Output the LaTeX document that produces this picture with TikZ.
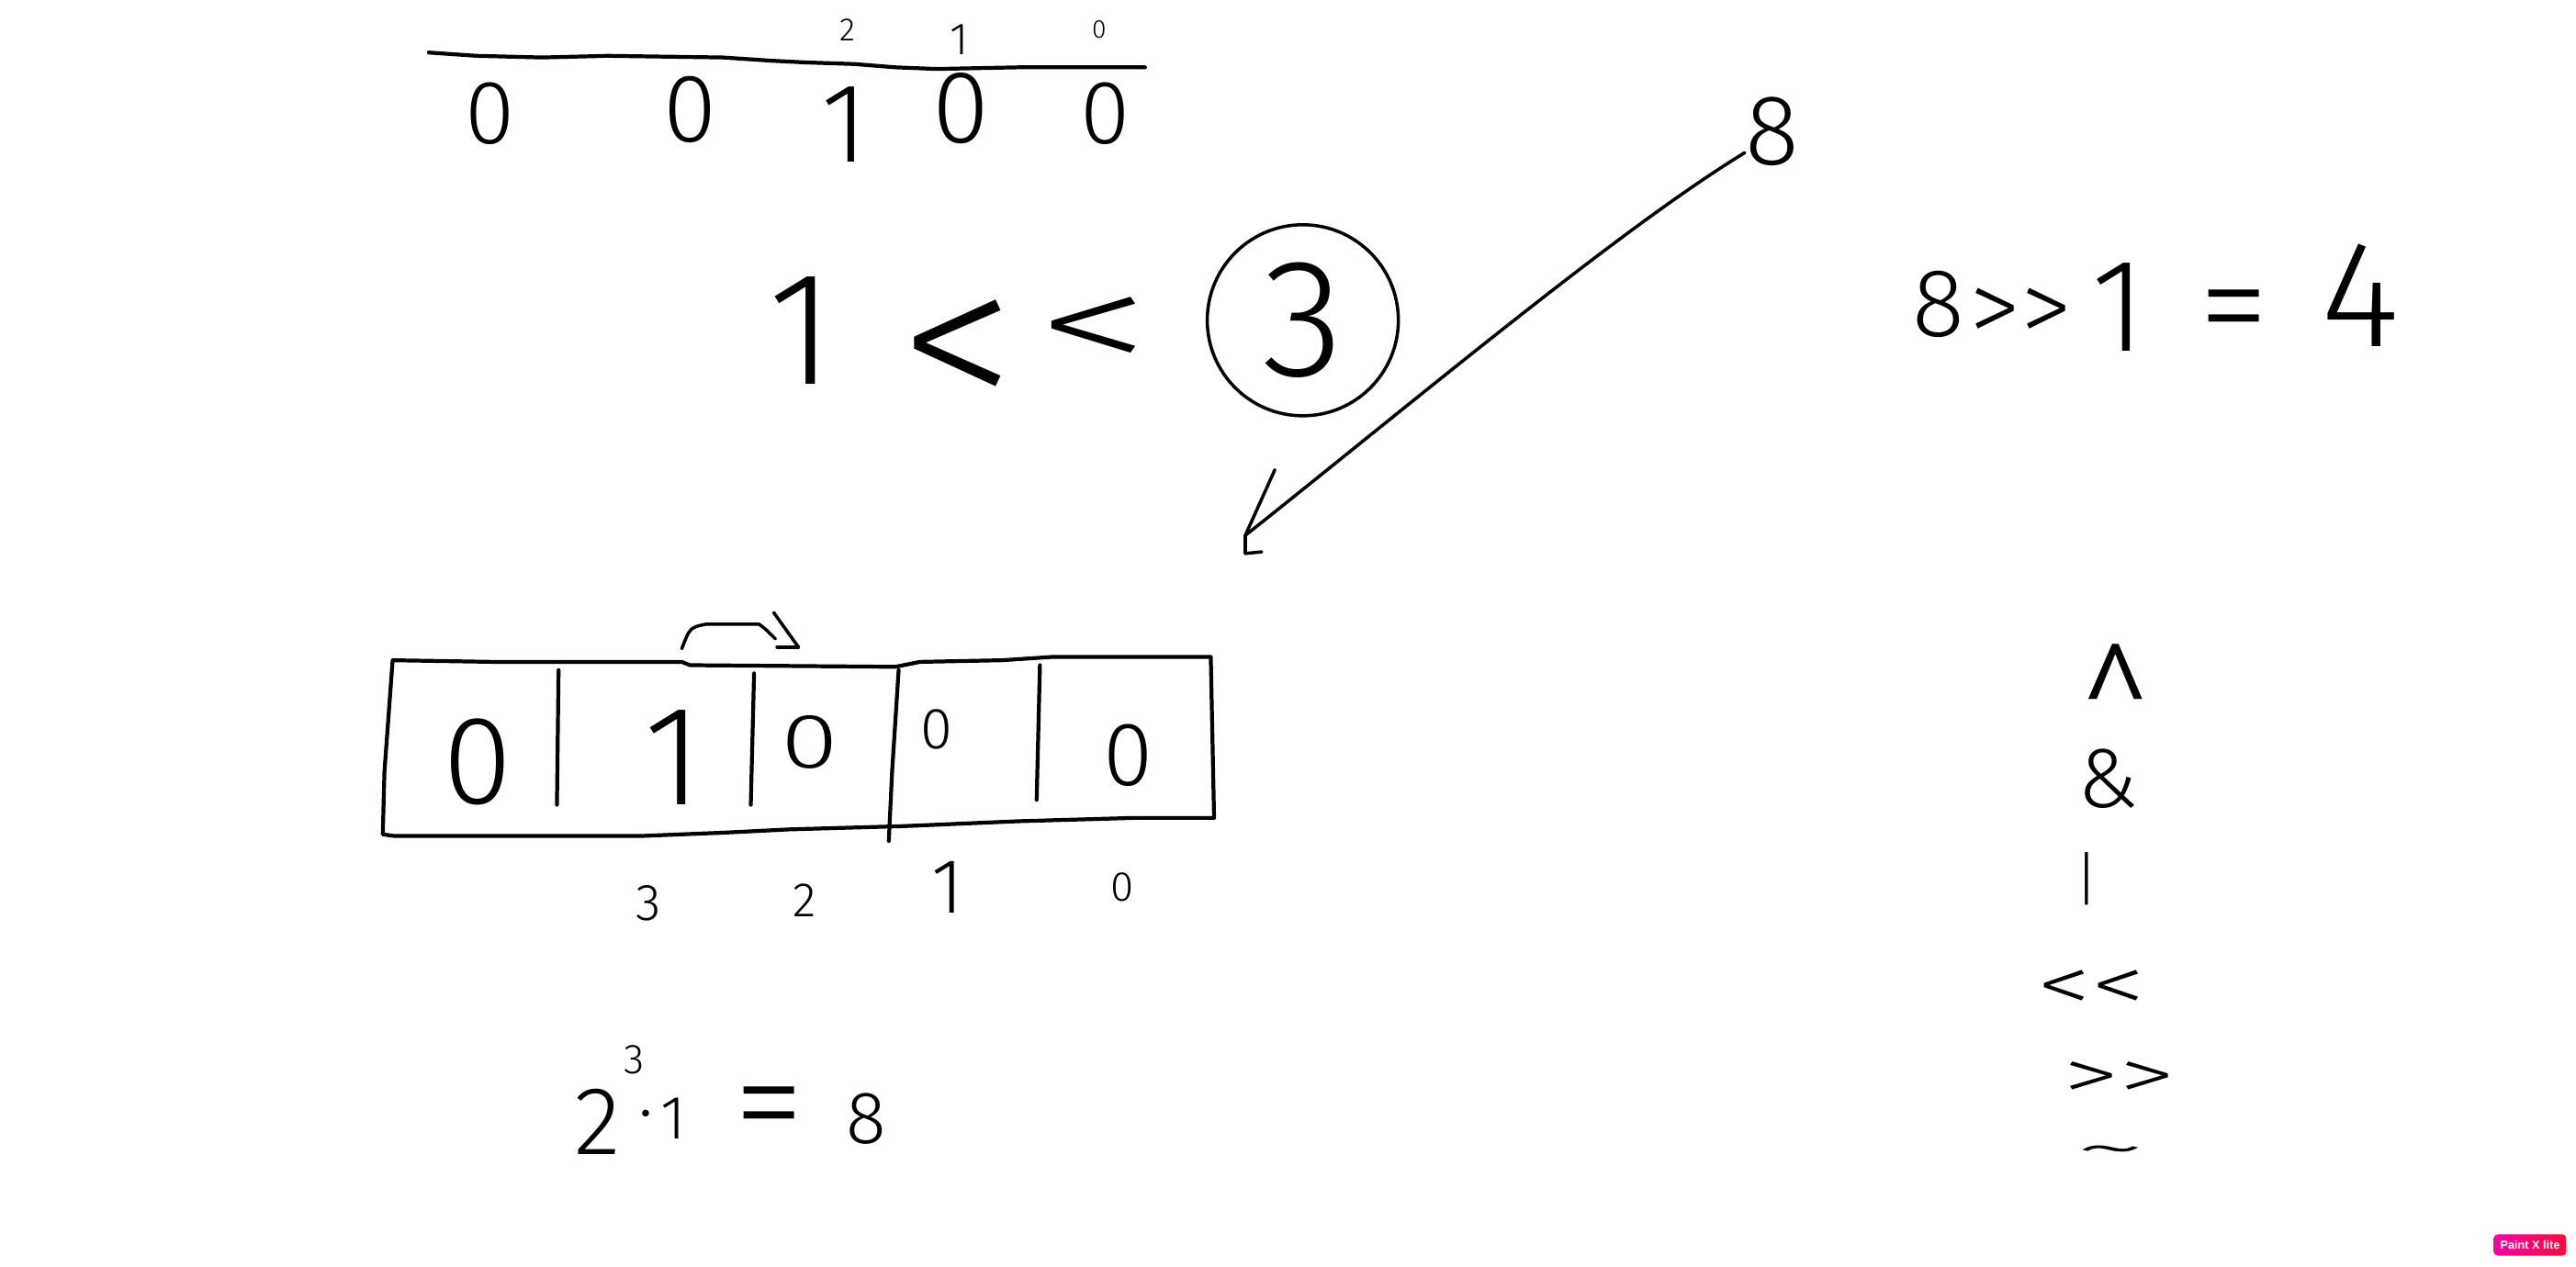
\documentclass[tikz,border=0pt]{standalone}
\usepackage{fontspec}
\setmainfont{Fira Sans Light}[Ligatures=TeXOff]
\newfontfamily\logofont{Liberation Sans}
\usetikzlibrary{arrows.meta,shapes.geometric,shadings}
\newcommand\hs[1]{\fontsize{#1}{#1}\selectfont}
\begin{document}
\begin{tikzpicture}[x=0.01789cm,y=-0.01789cm,
  pen/.style={line width=1pt,line cap=round,line join=round},
  boxline/.style={line width=1.2pt,line cap=round,line join=round},
  hw/.style={inner sep=0pt,outer sep=0pt,text=black}]
\fill[white] (0,0) rectangle (1568,771);
\useasboundingbox (0,0) rectangle (1568,771);

% ---------- top row ----------
\draw[boxline] (261,32) -- (290,34) -- (330,35) -- (370,34) -- (440,35) -- (470,37) -- (490,38) -- (520,39) -- (545,41) -- (570,42) -- (620,41) -- (697,41);
\node[hw,font=\hs{10}] (ti2) at (516,18) {2};
\node[hw,font=\hs{14}] (ti1) at (584,24) {1};
\node[hw,font=\hs{8}]  (ti0) at (669,18) {0};
\node[hw,font=\hs{28}] (t0) at (298,69) {0};
\node[hw,font=\hs{30}] (t1) at (420,67) {0};
\node[hw,font=\hs{35}] (t2) at (514,76) {1};
\node[hw,font=\hs{32}] (t3) at (585,66) {0};
\node[hw,font=\hs{28}] (t4) at (673,69) {0};

% ---------- 1 << 3 ----------
\node[hw,font=\hs{50}] (one) at (488,201) {1};
\node[hw,font=\hs{62},xscale=1.17,yscale=1.1] (lt1) at (583,218) {<};
\node[hw,font=\hs{44},xscale=1.6] (lt2) at (666,204) {<};
\node[hw,font=\hs{52},circle,draw,pen,minimum size=2.08cm] (three) at (793,195) {3};

% ---------- arrow from 8 ----------
\node[hw,font=\hs{31}] (eightA) at (1079,80) {8};
\coordinate (tip) at (758,326);
\coordinate (barbA) at (776,286);
\draw[pen] (eightA) ++(-17,13) .. controls (985,140) and (860,245) .. (tip);
\draw[pen] (tip) -- (barbA);
\draw[pen] (tip) -- ++(0,11) -- ++(10,-1);

% ---------- 8 >> 1 = 4 ----------
\node[hw,font=\hs{30}] (e8) at (1180,185) {8};
\node[hw,font=\hs{32}] (rr) at (1230,192) {>>};
\node[hw,font=\hs{41}] (e1) at (1290,187) {1};
\node[hw,font=\hs{44}] (eq) at (1360,196) {=};
\node[hw,font=\hs{47}] (e4) at (1437,180) {4};

% ---------- array ----------
\draw[boxline] (239,402) -- (300,403) -- (415,403) -- (420,405) -- (545,406) -- (560,403) -- (610,402) -- (640,400) -- (737,400)
  -- (739,498) -- (690,498) -- (620,500) -- (550,503) -- (480,505) -- (440,507) -- (390,509) -- (240,509) -- (233,508)
  -- (234,470) -- (239,402);
\draw[boxline] (340,408) -- (339,490);
\draw[boxline] (459,410) -- (457,490);
\draw[boxline] (547,408) -- (543,470) -- (541,512);
\draw[boxline] (633,405) -- (631,487);
\node[hw,font=\hs{39}] (a0) at (291,464) {0};
\node[hw,font=\hs{44}] (a1) at (410,461) {1};
\node[hw,font=\hs{24},xscale=1.35] (a2) at (493,452) {0};
\node[hw,font=\hs{18}] (a3) at (570,444) {0};
\node[hw,font=\hs{28}] (a4) at (687,460) {0};
% shift arrow
\coordinate (sa) at (415,395);
\coordinate (sb) at (472,389);
\coordinate (stip) at (486,394);
\draw[pen] (sa) .. controls (420,382) .. (430,380) -- (462,380) .. controls (466,383) .. (sb);
\draw[pen] (stip) -- (471,373);
\draw[pen] (stip) -- (473,394);

\node[hw,font=\hs{16}] (b3) at (395,550) {3};
\node[hw,font=\hs{15}] (b2) at (490,548) {2};
\node[hw,font=\hs{24}] (b1) at (577,540) {1};
\node[hw,font=\hs{13}] (b0) at (683,540) {0};

% ---------- 2^3 * 1 = 8 ----------
\node[hw,font=\hs{30}] (f2) at (364,683) {2};
\node[hw,font=\hs{13}] (f3) at (386,645) {3};
\node[hw,font=\hs{22}] (fd) at (393,684) {·};
\node[hw,font=\hs{19}] (f1) at (410,681) {1};
\node[hw,font=\hs{44}] (feq) at (468,681) {=};
\node[hw,font=\hs{23}] (f8) at (527,681) {8};

% ---------- operator column ----------
\node[hw,font=\hs{40},yscale=1.4] (opx) at (1288,438) {\textasciicircum};
\node[hw,font=\hs{26}] (opa) at (1283,474) {\&};
\node[hw,font=\hs{18}] (opo) at (1270,535) {|};
\node[hw,font=\hs{24},xscale=1.4] (opl) at (1273,603) {<<};
\node[hw,font=\hs{22},xscale=1.6] (opr) at (1290,658) {>>};
\node[hw,font=\hs{18},xscale=2.6] (opn) at (1285,704) {\textasciitilde};

% ---------- logo ----------
\node[rounded corners=1.2pt,left color={rgb,255:red,240;green,8;blue,160},right color={rgb,255:red,255;green,10;blue,60},
  minimum width=44*0.01789cm,minimum height=13*0.01789cm,inner sep=0pt,text=white,font=\logofont\bfseries\fontsize{3.6}{4}\selectfont]
  (logo) at (1540,758) {Paint X lite};
\end{tikzpicture}
\end{document}
